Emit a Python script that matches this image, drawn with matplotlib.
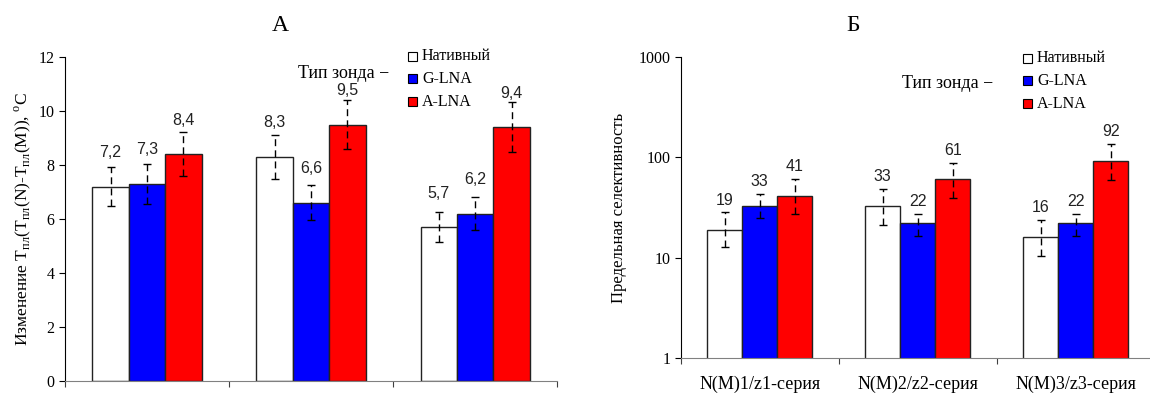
import numpy as np
from matplotlib import pyplot as plt

plt.rcParams['font.family'] = ['Liberation Serif', 'DejaVu Serif']
plt.rcParams['mathtext.fontset'] = 'custom'
plt.rcParams['mathtext.rm'] = 'Liberation Serif'

series = ['Нативный', 'G-LNA', 'A-LNA']
colors = ['white', '#0000ff', '#ff0000']
groups = ['N(M)1/z1-серия', 'N(M)2/z2-серия', 'N(M)3/z3-серия']

# панель А: изменение Tпл
dt_vals = [[7.2, 8.3, 5.7],
           [7.3, 6.6, 6.2],
           [8.4, 9.5, 9.4]]
dt_err = [[0.72, 0.82, 0.55],
          [0.74, 0.65, 0.62],
          [0.82, 0.92, 0.93]]
dt_labels = [['7,2', '8,3', '5,7'],
             ['7,3', '6,6', '6,2'],
             ['8,4', '9,5', '9,4']]

# панель Б: предельная селективность (лог. шкала)
sel_vals = [[19, 33, 16],
            [33, 22, 22],
            [41, 61, 92]]
sel_lo = [[12.7, 21.4, 10.4],
          [24.7, 16.3, 16.3],
          [27.5, 39.7, 60.0]]
sel_hi = [[28.2, 48.8, 23.6],
          [42.8, 27.5, 27.5],
          [61.4, 88.6, 137.0]]

fig = plt.figure(figsize=(11.5, 3.96), dpi=100)
ax1 = fig.add_axes([0.0565, 0.038, 0.428, 0.818])
ax2 = fig.add_axes([0.592, 0.096, 0.412, 0.760])

x = np.arange(3)
w = 0.222


def draw_bars(ax, vals, lo, hi, labels, pad):
    for i in range(3):
        xs = x + (i - 1) * w
        v = np.array(vals[i])
        ax.bar(xs, v, w, color=colors[i], edgecolor='#222222', linewidth=1.0, zorder=2)
        eb = ax.errorbar(xs, v, yerr=[v - np.array(lo[i]), np.array(hi[i]) - v], fmt='none',
                         ecolor='black', elinewidth=1.0, capsize=2.6, capthick=1.0, zorder=3)
        eb[2][0].set_linestyle((0, (5, 3)))
        for j in range(3):
            ax.text(xs[j], pad(vals[i][j], hi[i][j]), labels[i][j], ha='center', va='bottom',
                    fontsize=11.5, family='Liberation Sans', color='#222222')
    ax.set_xlim(-0.5, 2.5)
    ax.spines['top'].set_visible(False)
    ax.spines['right'].set_visible(False)
    ax.spines['bottom'].set_color('#808080')
    ax.set_xticks([-0.5, 0.5, 1.5, 2.5])
    ax.tick_params(axis='x', length=4, color='#404040')
    ax.tick_params(axis='y', direction='out', length=4, labelsize=11.5)


v1 = np.array(dt_vals)
e1 = np.array(dt_err)
draw_bars(ax1, dt_vals, (v1 - e1).tolist(), (v1 + e1).tolist(), dt_labels, lambda v, h: v + 0.98)
ax1.set_xticklabels([])
ax1.set_ylim(0, 12)
ax1.set_yticks(range(0, 13, 2))
ax1.set_ylabel('Изменение T$_{\\mathregular{пл}}$(T$_{\\mathregular{пл}}$(N)-T$_{\\mathregular{пл}}$(M)), '
               '$^{\\mathregular{o}}$C', fontsize=12.5, labelpad=4)

sel_labels = [[str(v) for v in row] for row in sel_vals]
draw_bars(ax2, sel_vals, sel_lo, sel_hi, sel_labels, lambda v, h: h * 1.12)
ax2.set_yscale('log')
ax2.set_ylim(1, 1000)
ax2.set_yticks([1, 10, 100, 1000])
ax2.set_yticklabels(['1', '10', '100', '1000'])
ax2.minorticks_off()
ax2.set_xticks([-0.5, 0.5, 1.5, 2.5])
ax2.set_xticklabels([])
for j, g in enumerate(groups):
    ax2.text(x[j], -0.06, g, transform=ax2.get_xaxis_transform(), ha='center', va='top', fontsize=13)
ax2.set_ylabel('Предельная селективность', fontsize=12, labelpad=8)

fig.text(0.2435, 0.935, 'А', ha='center', va='center', fontsize=17)
fig.text(0.742, 0.935, 'Б', ha='center', va='center', fontsize=17)

# легенды
for ax, lx, ly, tx, ty in [(ax1, 408, 56, 389, 74), (ax2, 1023, 58, 993, 83)]:
    fig.text(tx / 1150, 1 - ty / 396, 'Тип зонда −', ha='right', va='center', fontsize=13)
    for i in range(3):
        yy = ly + i * 22.8
        fig.patches.append(plt.Rectangle((lx / 1150, 1 - (yy + 4.5) / 396), 9 / 1150, 9 / 396,
                                         transform=fig.transFigure, facecolor=colors[i],
                                         edgecolor='black', linewidth=0.8))
        fig.text((lx + 14) / 1150, 1 - yy / 396, series[i], ha='left', va='center', fontsize=11.5)

fig.savefig('out.png', dpi=100)
